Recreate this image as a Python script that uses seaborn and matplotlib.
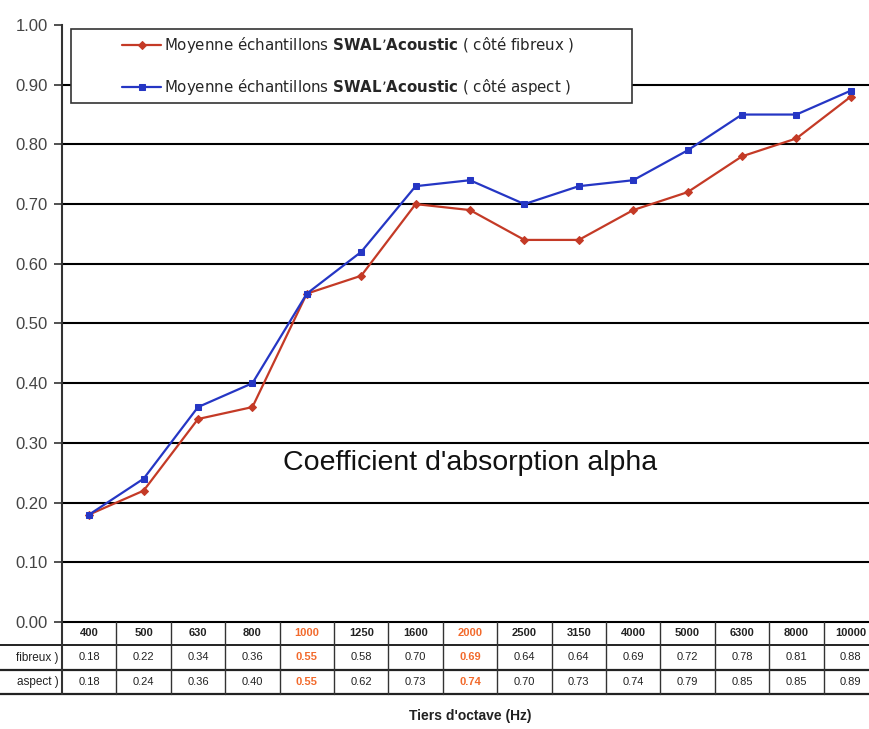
import numpy as np
import pandas as pd
import matplotlib
matplotlib.use("Agg")
import matplotlib.pyplot as plt
import matplotlib.transforms as mtransforms
from matplotlib.patches import Rectangle
from matplotlib.ticker import FormatStrFormatter
import seaborn as sns

# DATA
freqs = ["400", "500", "630", "800", "1000", "1250", "1600", "2000",
         "2500", "3150", "4000", "5000", "6300", "8000", "10000"]
alpha_fibreux = [0.18, 0.22, 0.34, 0.36, 0.55, 0.58, 0.70, 0.69,
                 0.64, 0.64, 0.69, 0.72, 0.78, 0.81, 0.88]
alpha_aspect = [0.18, 0.24, 0.36, 0.40, 0.55, 0.62, 0.73, 0.74,
                0.70, 0.73, 0.74, 0.79, 0.85, 0.85, 0.89]
highlight = ["1000", "2000"]
label_fibreux = "Moyenne échantillons $\\mathbf{SWAL’Acoustic}$ ( côté fibreux )"
label_aspect = "Moyenne échantillons $\\mathbf{SWAL’Acoustic}$ ( côté aspect )"
# row labels are cropped on the left in the original, only the end shows
row_labels = ["fibreux )", "aspect )"]

RED = "#c43a26"
BLUE = "#2536c4"
ORANGE = "#f26a2c"

sns.set_style("white")
plt.rcParams["font.family"] = ["Liberation Sans", "DejaVu Sans"]

df = pd.DataFrame({"idx": np.arange(len(freqs)), "fibreux": alpha_fibreux, "aspect": alpha_aspect})

fig = plt.figure(figsize=(8.69, 7.29), dpi=100)
# axes runs a bit past the right edge, like the cropped original
ax = fig.add_axes([62 / 869, 107 / 729, 816 / 869, 597 / 729])

sns.lineplot(data=df, x="idx", y="fibreux", ax=ax, color=RED, marker="D",
             markersize=4.5, markeredgecolor=RED, linewidth=1.6, label=label_fibreux, zorder=3)
sns.lineplot(data=df, x="idx", y="aspect", ax=ax, color=BLUE, marker="s",
             markersize=4.5, markeredgecolor=BLUE, linewidth=1.6, label=label_aspect, zorder=3)

ax.set_xlim(-0.5, len(freqs) - 0.5)
ax.set_ylim(0, 1.0)
ax.set_yticks(np.arange(0, 1.01, 0.1))
ax.yaxis.set_major_formatter(FormatStrFormatter("%.2f"))
ax.set_xticks([])
ax.set_xlabel("")
ax.set_ylabel("")
ax.tick_params(axis="y", left=True, length=6, width=1.2, color="#333333",
               labelsize=12, labelcolor="#444444", pad=4)
ax.grid(axis="y", color="black", linewidth=1.5)
ax.yaxis.get_gridlines()[-1].set_visible(False)
for gl in ax.yaxis.get_gridlines():
    gl.set_clip_on(False)
ax.set_axisbelow(True)
for s in ["top", "right", "bottom"]:
    ax.spines[s].set_visible(False)
ax.spines["left"].set_color("#333333")
ax.spines["left"].set_linewidth(1.5)

# legend box
ax.add_patch(Rectangle((9 / 816, (622 - 103) / 597), 561 / 816, 74 / 597,
                       transform=ax.transAxes, facecolor="white", edgecolor="#333333",
                       linewidth=1.2, zorder=4, clip_on=False))
leg = ax.legend(loc="center left", bbox_to_anchor=((122 - 62) / 816, (622 - 66) / 597),
                frameon=False, borderpad=0, borderaxespad=0, handlelength=2.6,
                handletextpad=0.2, labelspacing=1.45,
                prop={"family": "DejaVu Sans", "size": 10.8})
leg.set_zorder(5)

ax.text(0.5, 0.266, "Coefficient d'absorption alpha", transform=ax.transAxes,
        ha="center", va="center", fontsize=20.5, color="#111111")

# table under the axis
tr = mtransforms.blended_transform_factory(ax.transData, ax.transAxes)
y_rows = [-23 / 597, -48 / 597, -72 / 597]
y_centers = [-11.5 / 597, -35.5 / 597, -60 / 597]
rows = [freqs,
        ["%.2f" % v for v in alpha_fibreux],
        ["%.2f" % v for v in alpha_aspect]]
for r, vals in enumerate(rows):
    for i, v in enumerate(vals):
        hl = freqs[i] in highlight
        ax.text(i, y_centers[r], v, transform=tr, ha="center", va="center",
                fontsize=8, color=ORANGE if hl else "#222222",
                fontweight="bold" if (hl or r == 0) else "normal", clip_on=False)
for r, lab in enumerate(row_labels):
    ax.text(-0.56, y_centers[r + 1], lab, transform=tr, ha="right", va="center",
            fontsize=8.5, color="#222222", clip_on=False)
for y, lw in zip(y_rows, [1.4, 1.6, 1.6]):
    ax.plot([-2, len(freqs) - 0.5], [y, y], transform=tr, color="#222222",
            linewidth=lw, clip_on=False)
for i in range(len(freqs) + 1):
    ax.plot([i - 0.5, i - 0.5], [0, y_rows[-1]], transform=tr, color="#333333",
            linewidth=1.0 if i else 1.5, clip_on=False)

fig.text(470 / 869, 1 - 716 / 729, "Tiers d'octave (Hz)", ha="center", va="center",
         fontsize=10, fontweight="bold", color="#222222")

fig.savefig("out.png", dpi=100)
